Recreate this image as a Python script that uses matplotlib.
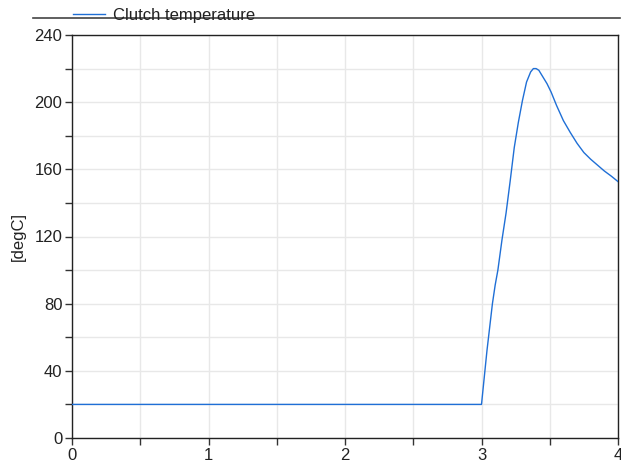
import matplotlib
matplotlib.use("Agg")
import matplotlib.pyplot as plt
from matplotlib.ticker import MultipleLocator

plt.rcParams['font.family'] = ['Liberation Sans', 'DejaVu Sans']

time_s = [0.0, 3.0, 3.02, 3.04, 3.06, 3.08, 3.10, 3.12, 3.15, 3.18, 3.21, 3.24,
          3.27, 3.30, 3.33, 3.36, 3.38, 3.40, 3.42, 3.45, 3.48, 3.51, 3.55, 3.60,
          3.65, 3.70, 3.75, 3.80, 3.85, 3.90, 3.95, 4.0]
clutch_temp = [20, 20, 36, 52, 66, 80, 91, 100, 118, 134, 153, 173,
               188, 201, 212, 218, 220, 220, 219, 215, 211, 206, 198, 189,
               182, 175.5, 170, 166, 162.5, 159, 156, 152.7]

series_name = "Clutch temperature"
y_label = "[degC]"

fig = plt.figure(figsize=(6.21, 4.72), dpi=100)
ax = fig.add_axes([72/621, 34/472, (618-72)/621, (438-35)/472])

ax.plot(time_s, clutch_temp, color='#1f6fd6', lw=1.0, zorder=3)

ax.set_xlim(0, 4)
ax.set_ylim(0, 240)
ax.xaxis.set_major_locator(MultipleLocator(1))
ax.xaxis.set_minor_locator(MultipleLocator(0.5))
ax.yaxis.set_major_locator(MultipleLocator(40))
ax.yaxis.set_minor_locator(MultipleLocator(20))
ax.grid(True, which='both', color='#e8e8e8', lw=1.0, zorder=0)
ax.set_axisbelow(True)
ax.tick_params(which='both', direction='out', length=5, width=1, color='#333333',
               labelsize=12, labelcolor='#222222', pad=2)
for s in ax.spines.values():
    s.set_color('#222222')
    s.set_linewidth(1.0)

ax.set_ylabel(y_label, fontsize=12, color='#222222', labelpad=6)

# legend header
fig.add_artist(plt.Line2D([33/621, 620/621], [1 - 18/472, 1 - 18/472],
                          color='#444444', lw=1.2, transform=fig.transFigure))
fig.add_artist(plt.Line2D([73/621, 105/621], [1 - 14/472, 1 - 14/472],
                          color='#1f6fd6', lw=1.0, transform=fig.transFigure))
fig.text(113/621, 1 - 20/472, series_name, fontsize=12, color='#222222',
         va='baseline', ha='left')

fig.savefig("out.png", dpi=100)
